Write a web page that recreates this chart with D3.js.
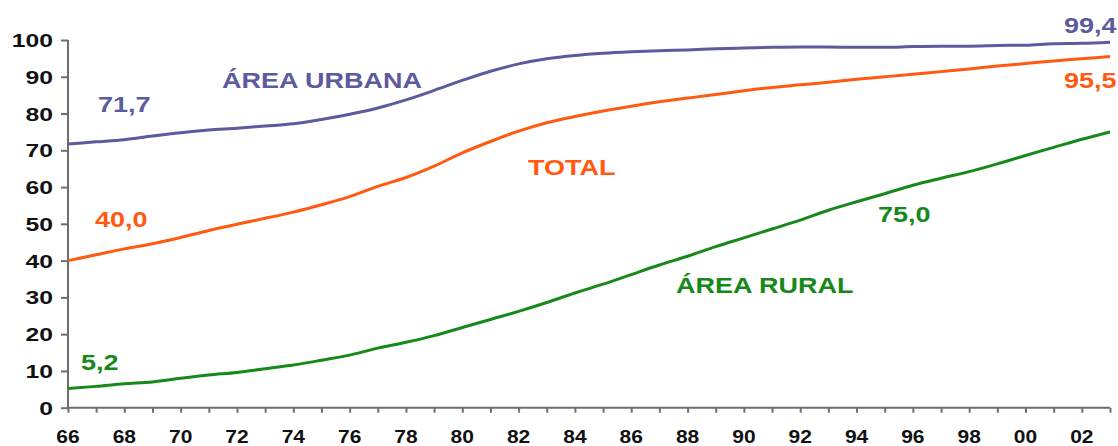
<!DOCTYPE html>
<html>
<head>
<meta charset="utf-8">
<script src="https://cdn.jsdelivr.net/npm/d3@7"></script>
<style>
  html, body { margin: 0; padding: 0; background: #fff; }
  svg { display: block; }
  text { font-family: "Liberation Sans", Arial, sans-serif; font-weight: bold; }
</style>
</head>
<body>
<svg id="chart" width="1118" height="446"></svg>
<script>
// Coverage (%) by year, 1966–2003
const years = d3.range(1966, 2004);

const urbana = [71.7, 72.3, 72.9, 73.9, 74.8, 75.5, 76.0, 76.6, 77.2, 78.4,
                79.8, 81.5, 83.7, 86.3, 89.0, 91.5, 93.5, 94.9, 95.8, 96.4,
                96.8, 97.1, 97.3, 97.6, 97.8, 98.0, 98.1, 98.1, 98.0, 98.0,
                98.2, 98.3, 98.3, 98.5, 98.6, 99.0, 99.1, 99.4];

const total = [40.0, 41.6, 43.2, 44.6, 46.3, 48.2, 49.9, 51.5, 53.2, 55.2,
               57.4, 60.2, 62.6, 65.7, 69.3, 72.4, 75.2, 77.5, 79.2, 80.7,
               82.0, 83.2, 84.2, 85.2, 86.2, 87.1, 87.8, 88.5, 89.3, 90.0,
               90.7, 91.4, 92.1, 92.9, 93.6, 94.3, 94.9, 95.5];

const rural = [5.2, 5.8, 6.5, 7.0, 8.0, 8.9, 9.6, 10.6, 11.6, 12.9,
               14.3, 16.2, 17.8, 19.6, 21.8, 24.0, 26.2, 28.6, 31.2, 33.6,
               36.2, 38.8, 41.2, 43.8, 46.2, 48.6, 51.0, 53.7, 56.0, 58.2,
               60.5, 62.4, 64.2, 66.3, 68.6, 70.8, 73.0, 75.0];

const yTicks = [0, 10, 20, 30, 40, 50, 60, 70, 80, 90, 100];
const xTickLabels = ["66", "68", "70", "72", "74", "76", "78", "80", "82", "84",
                     "86", "88", "90", "92", "94", "96", "98", "00", "02"];

const seriesNames = ["ÁREA URBANA", "TOTAL", "ÁREA RURAL"];
const colors = { urbana: "#5b5b9d", total: "#ff5a10", rural: "#17891a" };

const svg = d3.select("#chart");

const x = d3.scaleLinear().domain([1966, 2003]).range([68, 1110]);
const y = d3.scaleLinear().domain([0, 100]).range([407.7, 40]);

const axisColor = "#6e6e6e";
const stretch = "scale(1.2,1)";

// y axis
const yAxis = svg.append("g").attr("transform", `translate(${x(1966)},0)`)
  .call(d3.axisLeft(y).tickValues(yTicks).tickSize(7).tickFormat(""));
yAxis.select(".domain").attr("stroke", axisColor).attr("stroke-width", 2)
  .attr("d", `M0,${y(100)}V${y(0)}`);
yAxis.selectAll(".tick line").attr("stroke", axisColor).attr("stroke-width", 2);

svg.append("g").selectAll("text").data(yTicks).join("text")
  .attr("transform", d => `translate(53,${y(d) + 7}) scale(1.3,1)`)
  .attr("text-anchor", "end")
  .attr("font-size", 19)
  .attr("fill", "#111")
  .text(d => d);

// x axis: a tick each year, a label every second year
const xAxis = svg.append("g").attr("transform", `translate(0,${y(0)})`)
  .call(d3.axisBottom(x).tickValues(years).tickSize(5).tickFormat(""));
xAxis.select(".domain").attr("stroke", axisColor).attr("stroke-width", 2)
  .attr("d", `M${x(1966)},0H${x(2003)}`);
xAxis.selectAll(".tick line").attr("stroke", axisColor).attr("stroke-width", 2);

const labelYears = xTickLabels.map((s, i) => 1966 + 2 * i);
svg.append("g").selectAll("text").data(labelYears).join("text")
  .attr("transform", d => `translate(${x(d)},443) ${stretch}`)
  .attr("text-anchor", "middle")
  .attr("font-size", 17.5)
  .attr("fill", "#111")
  .text((d, i) => xTickLabels[i]);

// series lines
const line = d3.line()
  .x((d, i) => x(years[i]))
  .y(d => y(d))
  .curve(d3.curveMonotoneX);

[[urbana, colors.urbana], [total, colors.total], [rural, colors.rural]].forEach(([vals, c]) => {
  svg.append("path")
    .datum(vals)
    .attr("fill", "none")
    .attr("stroke", c)
    .attr("stroke-width", 3)
    .attr("stroke-linejoin", "round")
    .attr("d", line);
});

// series names and start/end values
const fmt = v => d3.format(".1f")(v).replace(".", ",");
const labels = [
  { text: seriesNames[0], px: 222, py: 88, c: colors.urbana },
  { text: fmt(urbana[0]), px: 98, py: 112, c: colors.urbana },
  { text: fmt(urbana[urbana.length - 1]), px: 1064, py: 33, c: colors.urbana },
  { text: seriesNames[1], px: 528, py: 175, c: colors.total },
  { text: fmt(total[0]), px: 95, py: 227, c: colors.total },
  { text: fmt(total[total.length - 1]), px: 1064, py: 88, c: colors.total },
  { text: seriesNames[2], px: 676, py: 293, c: colors.rural },
  { text: fmt(rural[0]), px: 81, py: 370, c: colors.rural },
  { text: fmt(rural[rural.length - 1]), px: 878, py: 222, c: colors.rural }
];
svg.append("g").selectAll("text").data(labels).join("text")
  .attr("transform", d => `translate(${d.px},${d.py}) ${stretch}`)
  .attr("font-size", 22.5)
  .attr("fill", d => d.c)
  .text(d => d.text);
</script>
</body>
</html>
